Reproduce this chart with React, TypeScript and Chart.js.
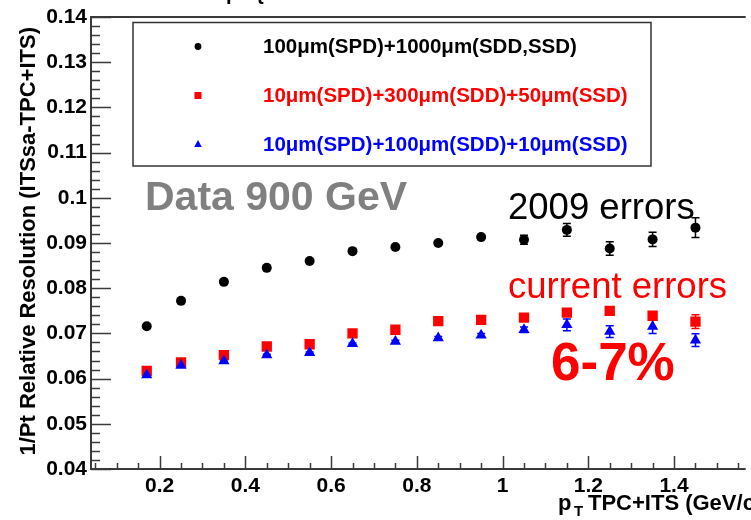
import React, { useEffect, useRef } from "react";
import { Chart, registerables } from "chart.js";

Chart.register(...registerables);

// ---- data ----
const ptBins = [0.17, 0.25, 0.35, 0.45, 0.55, 0.65, 0.75, 0.85, 0.95, 1.05, 1.15, 1.25, 1.35, 1.45];
const res2009 = [0.0716, 0.0772, 0.0814, 0.0845, 0.0860, 0.0882, 0.0891, 0.0900, 0.0913, 0.0907, 0.0929, 0.0888, 0.0908, 0.0934];
const res2009Err = [0.0002, 0.0002, 0.0002, 0.0002, 0.0002, 0.0003, 0.0003, 0.0003, 0.0004, 0.0010, 0.0014, 0.0015, 0.0016, 0.0022];
const resCurrent = [0.0617, 0.0636, 0.0652, 0.0671, 0.0676, 0.0700, 0.0708, 0.0727, 0.0730, 0.0735, 0.0746, 0.0750, 0.0739, 0.0726];
const resCurrentErr = [0.0002, 0.0002, 0.0002, 0.0002, 0.0002, 0.0002, 0.0003, 0.0003, 0.0003, 0.0004, 0.0005, 0.0005, 0.0006, 0.0015];
const resBest = [0.0608, 0.0629, 0.0639, 0.0652, 0.0657, 0.0677, 0.0682, 0.0690, 0.0696, 0.0708, 0.0719, 0.0704, 0.0715, 0.0685];
const resBestErr = [0.0002, 0.0002, 0.0002, 0.0002, 0.0002, 0.0002, 0.0003, 0.0003, 0.0004, 0.0006, 0.0013, 0.0013, 0.0015, 0.0014];

const seriesLabels = [
  "100\u03bcm(SPD)+1000\u03bcm(SDD,SSD)",
  "10\u03bcm(SPD)+300\u03bcm(SDD)+50\u03bcm(SSD)",
  "10\u03bcm(SPD)+100\u03bcm(SDD)+10\u03bcm(SSD)",
];
const seriesColors = ["#000000", "#ff0000", "#0000ff"];

const xTickValues = [0.2, 0.4, 0.6, 0.8, 1, 1.2, 1.4];
const xTickLabels = ["0.2", "0.4", "0.6", "0.8", "1", "1.2", "1.4"];
const yTickValues = [0.04, 0.05, 0.06, 0.07, 0.08, 0.09, 0.1, 0.11, 0.12, 0.13, 0.14];
const yTickLabels = ["0.04", "0.05", "0.06", "0.07", "0.08", "0.09", "0.1", "0.11", "0.12", "0.13", "0.14"];

const X_MIN = 0.04;
const X_MAX = 1.5625;
const Y_MIN = 0.04;
const Y_MAX = 0.14;

const FONT = "'Liberation Sans', Arial, Helvetica, sans-serif";

const toPoints = (ys: number[]) => ptBins.map((x, i) => ({ x, y: ys[i] }));

const decorPlugin = {
  id: "rootDecor",
  beforeDatasetsDraw(chart: any) {
    const ctx = chart.ctx as CanvasRenderingContext2D;
    const xs = chart.scales.x;
    const ys = chart.scales.y;
    const sets = [
      { v: res2009, e: res2009Err, c: seriesColors[0] },
      { v: resCurrent, e: resCurrentErr, c: seriesColors[1] },
      { v: resBest, e: resBestErr, c: seriesColors[2] },
    ];
    ctx.save();
    ctx.lineWidth = 1.5;
    for (const s of sets) {
      ctx.strokeStyle = s.c;
      ptBins.forEach((x, i) => {
        const px = xs.getPixelForValue(x);
        const y1 = ys.getPixelForValue(s.v[i] + s.e[i]);
        const y2 = ys.getPixelForValue(s.v[i] - s.e[i]);
        ctx.beginPath();
        ctx.moveTo(px, y1);
        ctx.lineTo(px, y2);
        ctx.moveTo(px - 4, y1);
        ctx.lineTo(px + 4, y1);
        ctx.moveTo(px - 4, y2);
        ctx.lineTo(px + 4, y2);
        ctx.stroke();
      });
    }
    ctx.restore();
  },
  afterDraw(chart: any) {
    const ctx = chart.ctx as CanvasRenderingContext2D;
    const xs = chart.scales.x;
    const ys = chart.scales.y;
    const { left, right, top, bottom } = chart.chartArea;
    ctx.save();
    // frame
    ctx.strokeStyle = "#3a3a3a";
    ctx.lineWidth = 2;
    ctx.beginPath();
    ctx.moveTo(right + 2, top);
    ctx.lineTo(left, top);
    ctx.lineTo(left, bottom);
    ctx.lineTo(right + 2, bottom);
    ctx.stroke();

    // y ticks (inward)
    ctx.lineWidth = 1.5;
    ctx.beginPath();
    for (let i = 0; i <= 50; i++) {
      const v = Y_MIN + i * 0.002;
      const py = Math.round(ys.getPixelForValue(v)) + 0.5;
      const len = i % 5 === 0 ? 20 : 9;
      ctx.moveTo(left, py);
      ctx.lineTo(left + len, py);
    }
    // x ticks (inward)
    for (let i = 1; i <= 31; i++) {
      const v = i * 0.05;
      if (v < X_MIN || v > X_MAX) continue;
      const px = Math.round(xs.getPixelForValue(v)) + 0.5;
      const len = i % 4 === 0 ? 13 : 6;
      ctx.moveTo(px, bottom);
      ctx.lineTo(px, bottom - len);
    }
    ctx.stroke();

    // legend box
    ctx.strokeStyle = "#333333";
    ctx.lineWidth = 1.5;
    ctx.strokeRect(133, 22.5, 518, 143.5);
    const rowsY = [46.5, 95.5, 144];
    const mx = 198;
    ctx.fillStyle = seriesColors[0];
    ctx.beginPath();
    ctx.arc(mx, rowsY[0], 3.4, 0, Math.PI * 2);
    ctx.fill();
    ctx.fillStyle = seriesColors[1];
    ctx.fillRect(mx - 3.5, rowsY[1] - 3.5, 7, 7);
    ctx.fillStyle = seriesColors[2];
    ctx.beginPath();
    ctx.moveTo(mx, rowsY[2] - 4);
    ctx.lineTo(mx + 3.8, rowsY[2] + 3);
    ctx.lineTo(mx - 3.8, rowsY[2] + 3);
    ctx.closePath();
    ctx.fill();
    ctx.font = `bold 20.5px ${FONT}`;
    ctx.textBaseline = "middle";
    ctx.textAlign = "left";
    seriesLabels.forEach((t, i) => {
      ctx.fillStyle = seriesColors[i];
      ctx.fillText(t, 263, rowsY[i] + 1);
    });

    // annotations
    ctx.textBaseline = "alphabetic";
    ctx.fillStyle = "#808080";
    ctx.font = `bold 41px ${FONT}`;
    ctx.fillText("Data 900 GeV", 145, 210);
    ctx.fillStyle = "#000000";
    ctx.font = `36.5px ${FONT}`;
    ctx.fillText("2009 errors", 508, 219);
    ctx.fillStyle = "#ff0000";
    ctx.fillText("current errors", 508, 298);
    ctx.font = `bold 53px ${FONT}`;
    ctx.fillText("6-7%", 551, 380);

    // clipped title fragments at the very top
    ctx.fillStyle = "#000000";
    ctx.font = `bold 20px ${FONT}`;
    ctx.fillText("p", 226, 0);
    ctx.fillText("{", 256, 0);

    // x axis title
    ctx.font = `bold 22px ${FONT}`;
    ctx.fillText("p", 558, 510);
    ctx.font = `bold 15px ${FONT}`;
    ctx.fillText("T", 574, 516);
    ctx.font = `bold 22px ${FONT}`;
    ctx.fillText("TPC+ITS (GeV/c)", 588, 510);

    // y axis title
    ctx.save();
    ctx.translate(35, 27);
    ctx.rotate(-Math.PI / 2);
    ctx.textAlign = "right";
    ctx.font = `bold 22px ${FONT}`;
    ctx.fillText("1/Pt Relative Resolution (ITSsa-TPC+ITS)", 0, 0);
    ctx.restore();

    ctx.restore();
  },
};

export default function App() {
  const ref = useRef<HTMLCanvasElement | null>(null);
  useEffect(() => {
    if (!ref.current) return;
    const chart = new Chart(ref.current, {
      type: "scatter",
      data: {
        datasets: [
          {
            label: seriesLabels[2],
            data: toPoints(resBest),
            pointStyle: "triangle",
            pointRadius: 6.5,
            backgroundColor: seriesColors[2],
            borderColor: seriesColors[2],
            borderWidth: 0,
            order: 0,
          },
          {
            label: seriesLabels[1],
            data: toPoints(resCurrent),
            pointStyle: "rect",
            pointRadius: 7.3,
            backgroundColor: seriesColors[1],
            borderColor: seriesColors[1],
            borderWidth: 0,
            order: 1,
          },
          {
            label: seriesLabels[0],
            data: toPoints(res2009),
            pointStyle: "circle",
            pointRadius: 5,
            backgroundColor: seriesColors[0],
            borderColor: seriesColors[0],
            borderWidth: 0,
            order: 2,
          },
        ],
      },
      options: {
        animation: false,
        responsive: false,
        devicePixelRatio: 1,
        layout: { padding: { top: 17, right: 0, left: 0, bottom: 0 } },
        plugins: {
          legend: { display: false },
          tooltip: { enabled: false },
          title: { display: false },
        },
        scales: {
          x: {
            type: "linear",
            min: X_MIN,
            max: X_MAX,
            grid: { display: false, drawTicks: false },
            border: { display: false },
            afterFit: (s: any) => {
              s.height = 51;
            },
            afterBuildTicks: (s: any) => {
              s.ticks = xTickValues.map((v) => ({ value: v }));
            },
            ticks: {
              autoSkip: false,
              maxRotation: 0,
              padding: 5,
              color: "#000",
              font: { family: FONT, size: 21, weight: "bold" },
              callback: (v: any) => {
                const i = xTickValues.findIndex((t) => Math.abs(t - v) < 1e-6);
                return i >= 0 ? xTickLabels[i] : "";
              },
            },
          },
          y: {
            type: "linear",
            min: Y_MIN,
            max: Y_MAX,
            grid: { display: false, drawTicks: false },
            border: { display: false },
            afterFit: (s: any) => {
              s.width = 91;
            },
            afterBuildTicks: (s: any) => {
              s.ticks = yTickValues.map((v) => ({ value: v }));
            },
            ticks: {
              autoSkip: false,
              padding: 4,
              color: "#000",
              font: { family: FONT, size: 21, weight: "bold" },
              callback: (v: any) => {
                const i = yTickValues.findIndex((t) => Math.abs(t - v) < 1e-6);
                return i >= 0 ? yTickLabels[i] : "";
              },
            },
          },
        },
      },
      plugins: [decorPlugin],
    });
    return () => chart.destroy();
  }, []);

  return (
    <div style={{ position: "absolute", left: 0, top: 0, width: 751, height: 520, background: "#fff" }}>
      <canvas ref={ref} width={751} height={520} style={{ width: 751, height: 520, display: "block" }} />
    </div>
  );
}
